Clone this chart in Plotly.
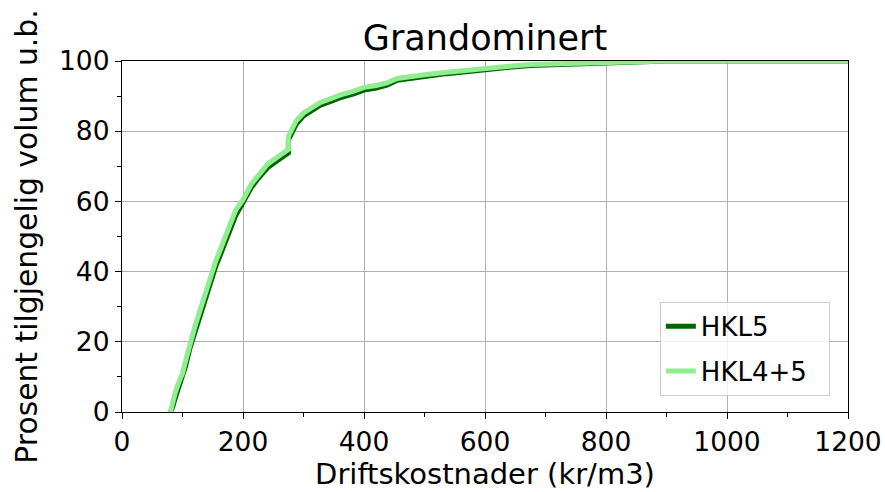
import plotly.graph_objects as go

# Cost (kr/m3) values
cost = [80, 84, 88, 95, 100, 105, 112, 120, 129, 137, 146, 155, 162, 170, 180, 188,
        200, 214, 225, 240, 256, 268, 275, 275, 280, 288, 300, 315, 328, 345, 360,
        383, 400, 420, 438, 455, 480, 500, 537, 570, 600, 640, 675, 730, 795, 850,
        900, 1200]

# Cumulative available volume (%) for HKL4+5
hkl45 = [0, 3, 5.5, 9, 11, 14.5, 19.5, 24, 29, 33.5, 38.5, 43, 46, 50, 54, 57.5,
         60.5, 65, 67.5, 70.5, 72.5, 74, 74.8, 78.5, 80.5, 83, 85.2, 87, 88.2, 89.3, 90.3,
         91.4, 92.5, 93, 93.8, 95, 95.8, 96.1, 96.8, 97.4, 98, 98.5, 99, 99.3, 99.6, 99.8,
         100, 100]

# Cumulative available volume (%) for HKL5
hkl5 = [0, 1.5, 4, 7.5, 9.5, 13, 18, 22.5, 27.5, 32, 37, 41.5, 44.5, 48.5, 52.5, 56,
        59.5, 64, 66.5, 69.5, 71.5, 73, 73.8, 77.5, 79.5, 82, 84.4, 86.2, 87.4, 88.5, 89.5,
        90.6, 91.7, 92.3, 93.1, 94.5, 95.3, 95.6, 96.4, 97.0, 97.7, 98.2, 98.7, 99.1, 99.5, 99.8,
        100, 100]

series_names = ["HKL5", "HKL4+5"]
x_ticks = [0, 200, 400, 600, 800, 1000, 1200]
y_ticks = [0, 20, 40, 60, 80, 100]

FONT = "DejaVu Sans"
PAD = "\u00a0\u00a0"

fig = go.Figure()
fig.add_trace(go.Scatter(x=cost, y=hkl5, mode="lines", name=series_names[0] + PAD, legendgroup="a",
                         line=dict(color="#006400", width=5)))
fig.add_trace(go.Scatter(x=cost, y=hkl45, mode="lines", name=series_names[1] + PAD, legendgroup="b",
                         line=dict(color="#90EE90", width=5)))

axis_common = dict(
    showline=True, mirror=True, linecolor="black", linewidth=1.2,
    ticks="outside", ticklen=6, tickwidth=1.2, tickcolor="black",
    showgrid=True, gridcolor="#b0b0b0", gridwidth=1,
    zeroline=False, automargin=False,
    tickfont=dict(family=FONT, size=26.5, color="black"),
)

fig.update_layout(
    width=885, height=492,
    margin=dict(l=122, r=37, t=61, b=80),
    paper_bgcolor="white", plot_bgcolor="white",
    font=dict(family=FONT, color="black"),
    title=dict(text="Grandominert", x=0.5, xref="paper", xanchor="center",
               y=1, yref="paper", yanchor="bottom", pad=dict(b=11),
               font=dict(family=FONT, size=35, color="black")),
    xaxis=dict(range=[0, 1200], tickvals=x_ticks,
               minor=dict(dtick=100, ticks="outside", ticklen=3.5, tickwidth=1, tickcolor="black", showgrid=False),
               title=dict(text="Driftskostnader (kr/m3)", standoff=4,
                          font=dict(family=FONT, size=29, color="black")),
               **axis_common),
    yaxis=dict(range=[0, 100], tickvals=y_ticks,
               minor=dict(dtick=10, ticks="outside", ticklen=3.5, tickwidth=1, tickcolor="black", showgrid=False),
               title=dict(text="Prosent tilgjengelig volum u.b.", standoff=12,
                          font=dict(family=FONT, size=29.8, color="black")),
               **axis_common),
    legend=dict(x=0.975, y=0.046, xanchor="right", yanchor="bottom",
                bgcolor="rgba(255,255,255,0.8)", bordercolor="#cccccc", borderwidth=1,
                font=dict(family=FONT, size=26, color="black"),
                tracegroupgap=8, entrywidth=215, entrywidthmode="pixels"),
    showlegend=True,
)

fig.write_html("out.html", config={"displayModeBar": False},
               post_script="document.body.style.margin='0';document.body.style.overflow='hidden';")
